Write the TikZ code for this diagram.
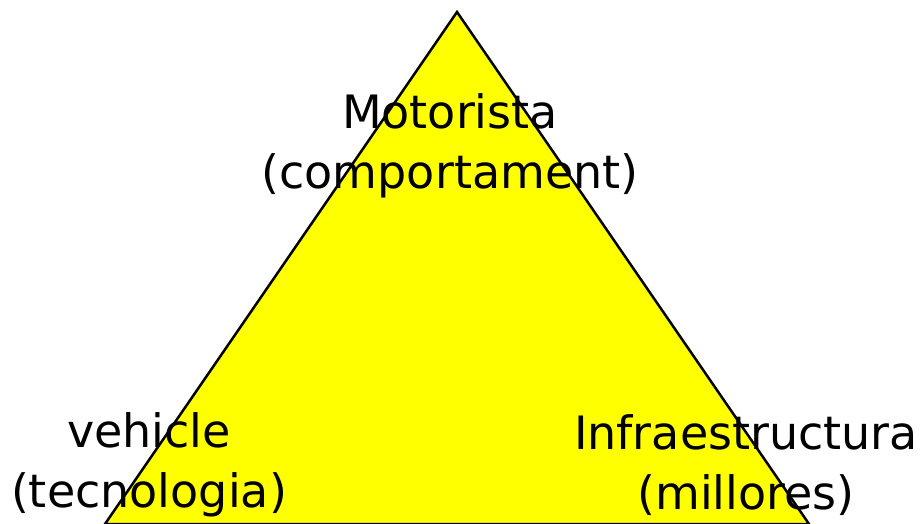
\documentclass[tikz,border=0pt]{standalone}
\usepackage{fontspec}
\setmainfont{DejaVu Sans}
\usetikzlibrary{positioning}
\definecolor{triyellow}{RGB}{255,255,0}

\begin{document}
\begin{tikzpicture}[x=1pt, y=1pt,
    factor/.style={align=center, inner sep=0pt, font=\fontsize{46}{60}\selectfont}]
    \useasboundingbox (0,0) rectangle (924,523);

    \coordinate (apex) at (457,511);
    \coordinate (lbase) at (105,-1);
    \coordinate (rbase) at (809,-1);

    \filldraw[fill=triyellow, draw=black, line width=2.5pt, line join=miter]
        (apex) -- (rbase) -- (lbase) -- cycle;

    \node[factor] (driver) at (450,377) {Motorista\\(comportament)};
    \node[factor] (vehicle) at (149,58) {vehicle\\(tecnologia)};
    \node[factor] (infra) at (746,58) {Infraestructura\\(millores)};

\end{tikzpicture}
\end{document}
